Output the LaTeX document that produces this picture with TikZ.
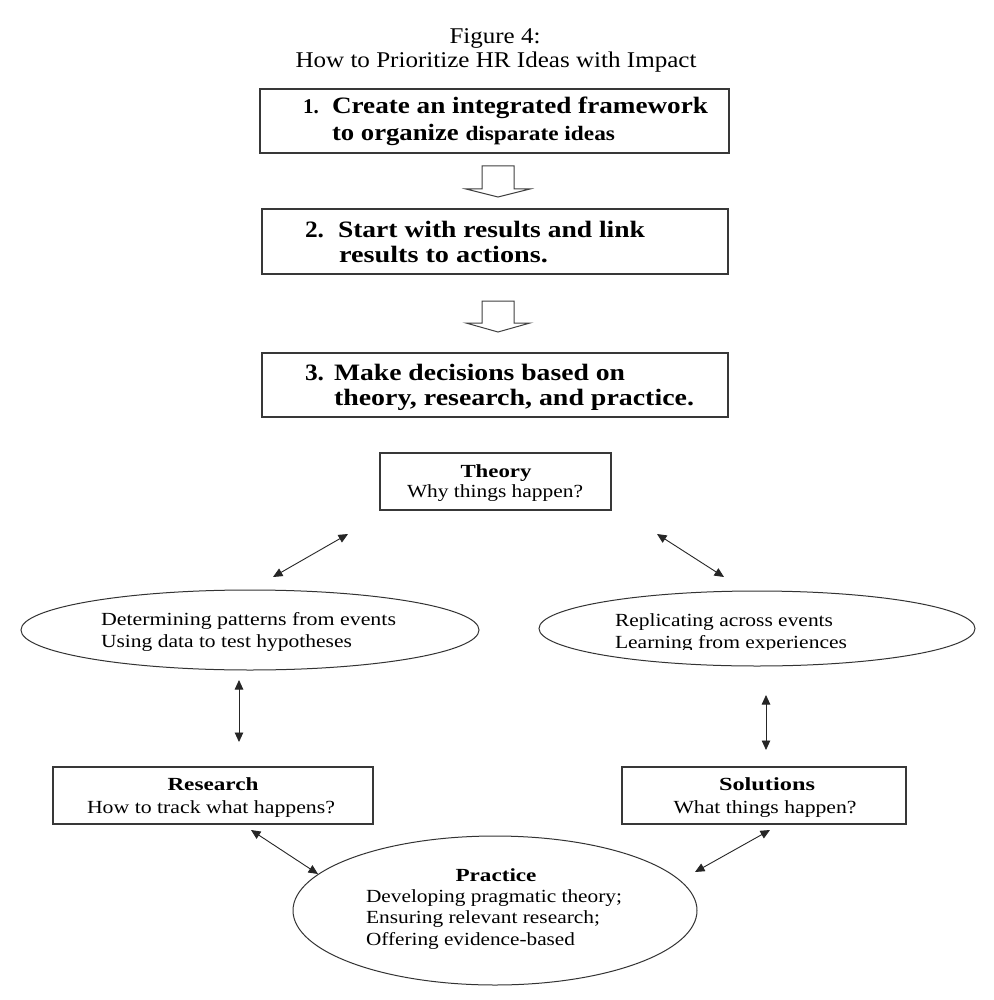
\documentclass[tikz,border=0pt]{standalone}
\usepackage{fontspec}
\setmainfont{Liberation Serif}
\usepackage{graphicx}
\usetikzlibrary{arrows.meta,shapes.geometric}
\newsavebox\fitbox
\newcommand\fitw[2]{\sbox\fitbox{#2}\scalebox{\fpeval{(#1)/(\the\wd\fitbox)}}[1]{\usebox\fitbox}}
\tikzset{
  box/.style={draw=black!78, line width=1.3pt, rectangle, inner sep=0pt, fill=white},
  ell/.style={draw=black!80, line width=1pt, ellipse, inner sep=0pt},
  txt/.style={inner sep=0pt, outer sep=0pt, text=black},
  hollow/.style={draw=black!75, line width=1pt, fill=white, line join=miter},
  dbl/.style={line width=0.9pt, draw=black!85, {Triangle[length=9.5pt,width=8.5pt]}-{Triangle[length=9.5pt,width=8.5pt]}},
  big/.style={font=\fontsize{23.5}{24}\selectfont\bfseries},
  reg/.style={font=\fontsize{18.5}{20}\selectfont},
  regb/.style={font=\fontsize{18.5}{20}\selectfont\bfseries},
  ttl/.style={font=\fontsize{22.5}{24}\selectfont}
}
\begin{document}
\begin{tikzpicture}[x=1pt,y=-1pt]
\useasboundingbox[fill=white] (0,0) rectangle (993,1000);

% title
\node[txt,ttl,anchor=base] (fig) at (495,44) {\fitw{91}{Figure 4:}};
\node[txt,ttl,anchor=base] (title) at (496,68) {\fitw{401}{How to Prioritize HR Ideas with Impact}};

% step boxes
\node[box, minimum width=469pt, minimum height=64pt] (b1) at (494.5,121) {};
\node[txt,big,anchor=base west] (b1n) at (303,114) {\fontsize{21}{22}\selectfont 1.};
\node[txt,big,anchor=base west] (b1a) at (332,114) {\fitw{376}{Create an integrated framework}};
\node[txt,big,anchor=base west] (b1b) at (332,141) {\fitw{283}{to organize \fontsize{20.5}{20}\selectfont disparate ideas}};

\draw[hollow] (482,166) -- (514,166) -- (514,189) -- (530,189) -- (498,197) -- (466,189) -- (482,189) -- cycle;

\node[box, minimum width=466pt, minimum height=65pt] (b2) at (495,241.5) {};
\node[txt,big,anchor=base west] (b2n) at (305,237) {\fitw{19}{2.}};
\node[txt,big,anchor=base west] (b2a) at (338,237) {\fitw{307}{Start with results and link}};
\node[txt,big,anchor=base west] (b2b) at (339,262) {\fitw{209}{results to actions.}};

\draw[hollow] (482,301) -- (514,301) -- (514,323) -- (530,323) -- (498,332) -- (466,323) -- (482,323) -- cycle;

\node[box, minimum width=466pt, minimum height=64pt] (b3) at (495,385) {};
\node[txt,big,anchor=base west] (b3n) at (305,380) {\fitw{19}{3.}};
\node[txt,big,anchor=base west] (b3a) at (334,380) {\fitw{291}{Make decisions based on}};
\node[txt,big,anchor=base west] (b3b) at (334,405) {\fitw{360}{theory, research, and practice.}};

% theory
\node[box, minimum width=231pt, minimum height=57pt] (theory) at (495.5,481.5) {};
\node[txt,regb,anchor=base] (theoryT) at (496,477) {\fitw{71}{Theory}};
\node[txt,reg,anchor=base] (theoryS) at (495,497) {\fitw{176}{Why things happen?}};

% ellipses
\node[ell, minimum width=458pt, minimum height=80pt] (lell) at (250,630) {};
\node[txt,reg,anchor=base west] (lell1) at (101,625) {\fitw{295}{Determining patterns from events}};
\node[txt,reg,anchor=base west] (lell2) at (101,647) {\fitw{251}{Using data to test hypotheses}};

\node[ell, minimum width=436pt, minimum height=75pt] (rell) at (757,628.5) {};
\node[txt,reg,anchor=base west] (rell1) at (615,626) {\fitw{218}{Replicating across events}};
\begin{scope}
\clip (600,600) rectangle (900,649);
\node[txt,reg,anchor=base west] (rell2) at (615,648) {\fitw{232}{Learning from experiences}};
\end{scope}

% research / solutions
\node[box, minimum width=320pt, minimum height=57pt] (research) at (213,795.5) {};
\node[txt,regb,anchor=base] (researchT) at (213,790) {\fitw{91}{Research}};
\node[txt,reg,anchor=base] (researchS) at (211,813) {\fitw{248}{How to track what happens?}};

\node[box, minimum width=284pt, minimum height=57pt] (solutions) at (764,795.5) {};
\node[txt,regb,anchor=base] (solutionsT) at (767,790) {\fitw{96}{Solutions}};
\node[txt,reg,anchor=base] (solutionsS) at (765,813) {\fitw{183}{What things happen?}};

% practice
\node[ell, minimum width=404pt, minimum height=149pt] (practice) at (495,910.5) {};
\node[txt,regb,anchor=base] (practiceT) at (496,881) {\fitw{81}{Practice}};
\node[txt,reg,anchor=base west] (practice1) at (366,902) {\fitw{256}{Developing pragmatic theory;}};
\node[txt,reg,anchor=base west] (practice2) at (366,923.5) {\fitw{234}{Ensuring relevant research;}};
\node[txt,reg,anchor=base west] (practice3) at (366,945) {\fitw{209}{Offering evidence-based}};

% connector end points
\coordinate (c1a) at (273,577); \coordinate (c1b) at (348,534);
\coordinate (c2a) at (657,534); \coordinate (c2b) at (724,577);
\coordinate (c3a) at (239,680); \coordinate (c3b) at (239,742);
\coordinate (c4a) at (766,695); \coordinate (c4b) at (766,750);
\coordinate (c5a) at (251,830); \coordinate (c5b) at (318,874);
\coordinate (c6a) at (770,830); \coordinate (c6b) at (695,872);

\draw[dbl] (c1a) -- (c1b);
\draw[dbl] (c2a) -- (c2b);
\draw[dbl] (c3a) -- (c3b);
\draw[dbl] (c4a) -- (c4b);
\draw[dbl] (c5a) -- (c5b);
\draw[dbl] (c6a) -- (c6b);
\end{tikzpicture}
\end{document}
